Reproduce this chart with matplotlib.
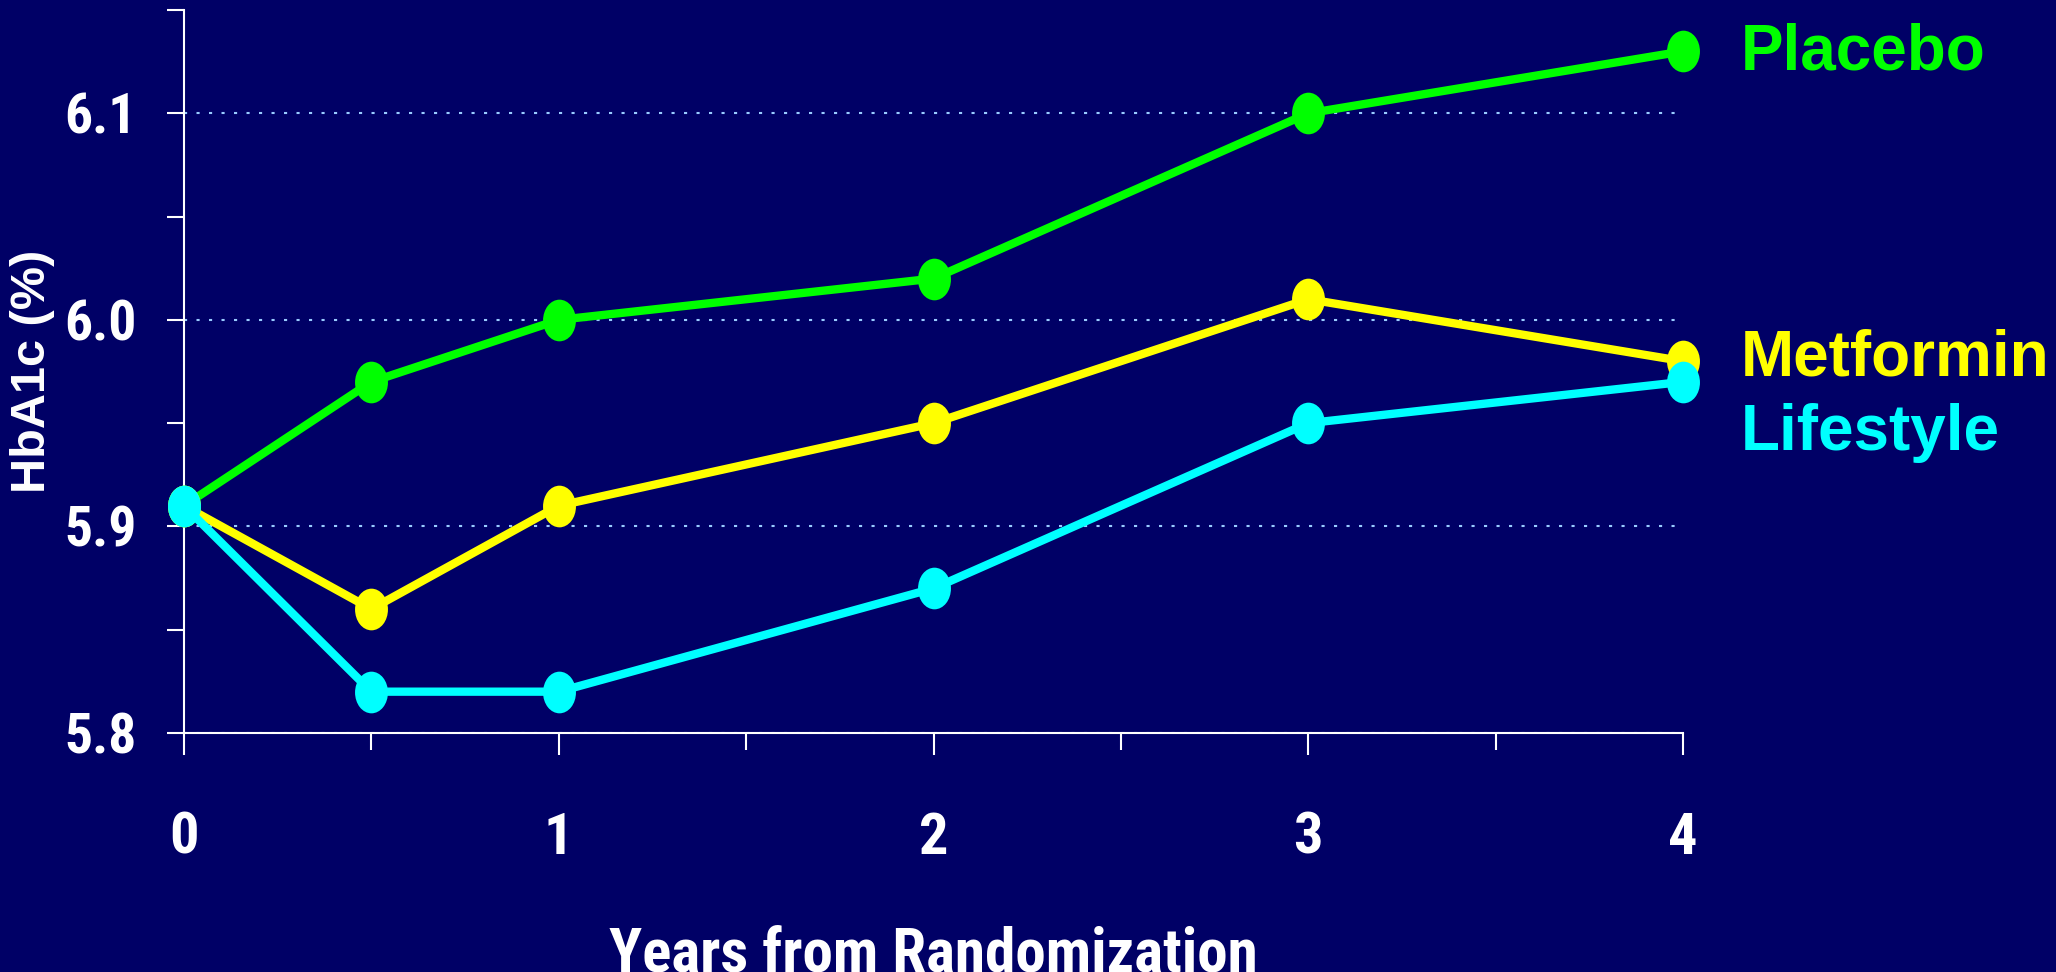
import numpy as np
import matplotlib
matplotlib.use("Agg")
import matplotlib.pyplot as plt
from matplotlib.path import Path
from matplotlib.transforms import Affine2D
from matplotlib.ticker import MultipleLocator, FormatStrFormatter

# HbA1c by treatment group
years = [0, 0.5, 1, 2, 3, 4]
placebo = [5.91, 5.97, 6.00, 6.02, 6.10, 6.13]
metformin = [5.91, 5.86, 5.91, 5.95, 6.01, 5.98]
lifestyle = [5.91, 5.82, 5.82, 5.87, 5.95, 5.97]

groups = ["Placebo", "Metformin", "Lifestyle"]
colors = ["#00ff00", "#ffff00", "#00ffff"]
series = [placebo, metformin, lifestyle]
# where the group names sit (data coords, text baseline)
name_pos = [(4.155, 6.121), (4.155, 5.973), (4.155, 5.937)]

bg = "#000066"
narrow = ["Roboto Condensed", "DejaVu Sans"]
wide = ["Liberation Sans", "DejaVu Sans"]

# slightly tall ellipse for the markers
oval = Path.unit_circle().transformed(Affine2D().scale(0.79, 1.0))

fig = plt.figure(figsize=(20.56, 9.72), dpi=100, facecolor=bg)
ax = fig.add_axes([0.0895, 0.2459, 0.7291, 0.7438], facecolor=bg)

for vals, c in zip(series, colors):
    ax.plot(years, vals, color=c, lw=6, marker=oval, ms=30,
            mec=c, mew=0, mfc=c, zorder=3, clip_on=False)

for name, c, (tx, ty) in zip(groups, colors, name_pos):
    ax.text(tx, ty, name, color=c, fontsize=46, fontweight="bold",
            family=wide, ha="left", va="baseline", clip_on=False)

ax.set_xlim(0, 4)
ax.set_ylim(5.8, 6.15)
ax.xaxis.set_major_locator(MultipleLocator(1))
ax.xaxis.set_minor_locator(MultipleLocator(0.5))
ax.yaxis.set_major_locator(MultipleLocator(0.1))
ax.yaxis.set_minor_locator(MultipleLocator(0.05))
ax.yaxis.set_major_formatter(FormatStrFormatter("%.1f"))

ax.grid(axis="y", which="major", color="#99ccff", lw=1.5,
        linestyle=(0, (1.5, 4.5)), zorder=1)
ax.set_axisbelow(True)

for s in ["top", "right"]:
    ax.spines[s].set_visible(False)
for s in ["left", "bottom"]:
    ax.spines[s].set_color("white")
    ax.spines[s].set_linewidth(1.5)

ax.tick_params(axis="x", which="major", length=16, width=1.5, color="white",
               pad=40, labelcolor="white", labelsize=42)
ax.tick_params(axis="x", which="minor", length=12, width=1.5, color="white")
ax.tick_params(axis="y", which="both", length=12, width=1.5, color="white",
               pad=22, labelcolor="white", labelsize=40)
for lab in ax.get_xticklabels() + ax.get_yticklabels():
    lab.set_family(narrow)
    lab.set_fontweight("bold")

ax.set_xlabel("Years from Randomization", color="white", fontsize=44,
              fontweight="bold", family=narrow, labelpad=43)
ax.set_ylabel("HbA1c (%)", color="white", fontsize=35,
              fontweight="bold", family=wide)
ax.yaxis.set_label_coords(-0.086, 0.5)

fig.savefig("out.png", dpi=100, facecolor=bg)
